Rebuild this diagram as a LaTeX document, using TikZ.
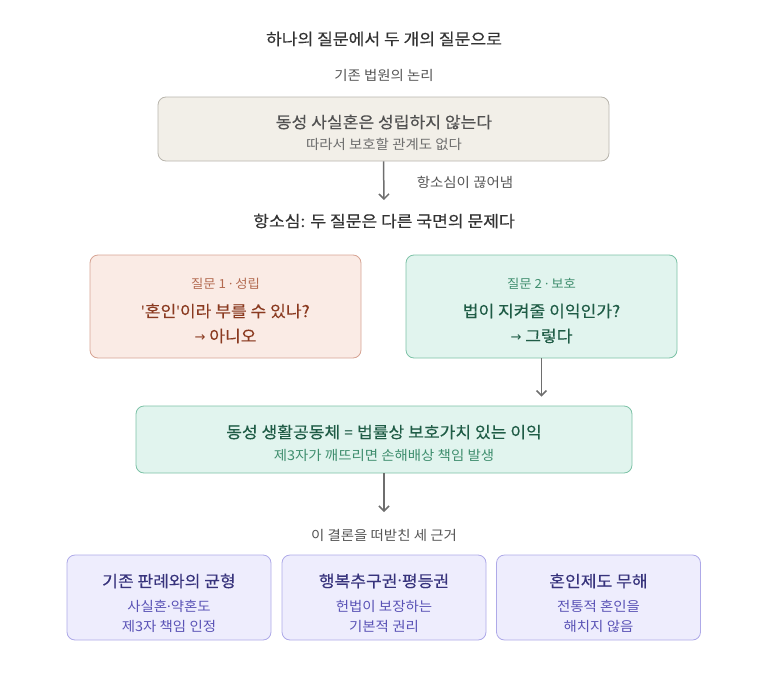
\documentclass[tikz,border=0pt]{standalone}
\usepackage{fontspec}
\setmainfont[FakeStretch=1.07]{Noto Sans CJK KR}
\newfontfamily\krmed[FakeStretch=1.07,FakeBold=0.3]{Noto Sans CJK KR}
\newfontfamily\latinfont{Noto Sans}
\newfontfamily\symfont{DejaVu Sans}
\usetikzlibrary{arrows.meta}

\definecolor{basefill}{HTML}{F2EFE8}
\definecolor{baseline}{HTML}{B9B5AD}
\definecolor{nofill}{HTML}{FAEBE5}
\definecolor{noline}{HTML}{D6A393}
\definecolor{notag}{HTML}{B36A50}
\definecolor{notext}{HTML}{8A3A20}
\definecolor{yesfill}{HTML}{E1F4EE}
\definecolor{yesline}{HTML}{7CC2A6}
\definecolor{yestag}{HTML}{3F8E6E}
\definecolor{yestext}{HTML}{1F5C46}
\definecolor{whyfill}{HTML}{EEEDFD}
\definecolor{whyline}{HTML}{AEA9E8}
\definecolor{whyhead}{HTML}{37337C}
\definecolor{whytext}{HTML}{5A53B6}
\definecolor{ink}{HTML}{333333}
\definecolor{note}{HTML}{555555}
\definecolor{way}{HTML}{6E6E6E}

\newcommand\middot{{\latinfont ·}}
\newcommand\toarrow{{\symfont\fontsize{13}{15}\selectfont →}}

\tikzset{
  box/.style={draw, rounded corners=8pt, line width=0.8pt, inner sep=0pt},
  txtbig/.style={inner sep=0pt, font=\krmed\fontsize{16}{19}\selectfont},
  txtmid/.style={inner sep=0pt, font=\fontsize{13.5}{16}\selectfont},
  txttag/.style={inner sep=0pt, font=\fontsize{12.5}{15}\selectfont},
  way/.style={draw=way, line width=1.5pt, -{Straight Barb[length=5pt,width=10pt]}}
}

\begin{document}
\begin{tikzpicture}[x=1pt,y=-1pt]
  \useasboundingbox (0,0) rectangle (768,677);
  % Boxes
  \node[box, fill=basefill, draw=baseline, minimum width=451pt, minimum height=64pt] (base) at (383.5,129) {};
  \node[box, fill=nofill, draw=noline, minimum width=271pt, minimum height=103pt] (q1) at (225.5,306.5) {};
  \node[box, fill=yesfill, draw=yesline, minimum width=271pt, minimum height=103pt] (q2) at (541.5,306.5) {};
  \node[box, fill=yesfill, draw=yesline, minimum width=496pt, minimum height=67pt] (result) at (384,439.5) {};
  \node[box, fill=whyfill, draw=whyline, minimum width=204pt, minimum height=85pt] (r1) at (169,597.5) {};
  \node[box, fill=whyfill, draw=whyline, minimum width=204pt, minimum height=85pt] (r2) at (384,597.5) {};
  \node[box, fill=whyfill, draw=whyline, minimum width=204pt, minimum height=85pt] (r3) at (598.5,597.5) {};
  % Labels
  \node[txtbig, text=ink] (title) at (384,39) {하나의 질문에서 두 개의 질문으로};
  \node[txtmid, text=note] (oldlogic) at (384,75) {기존 법원의 논리};
  \node[txtbig, text=ink!85] (basehead) at (384,122) {동성 사실혼은 성립하지 않는다};
  \node[txtmid, text=note!85] (basesub) at (384,144) {따라서 보호할 관계도 없다};
  \node[txtmid, text=note] (cut) at (465,182) {항소심이 끊어냄};
  \node[txtbig, text=ink] (appeal) at (384,221) {항소심: 두 질문은 다른 국면의 문제다};
  \node[txttag, text=notag] (q1tag) at (225.5,284) {질문 1 \middot{} 성립};
  \node[txtbig, text=notext] (q1main) at (225.5,311) {{\latinfont '}혼인{\latinfont '}이라 부를 수 있나?};
  \node[txtbig, text=notext] (q1ans) at (225.5,336) {\toarrow{} 아니오};
  \node[txttag, text=yestag] (q2tag) at (541.5,284) {질문 2 \middot{} 보호};
  \node[txtbig, text=yestext] (q2main) at (541.5,311) {법이 지켜줄 이익인가?};
  \node[txtbig, text=yestext] (q2ans) at (541.5,336) {\toarrow{} 그렇다};
  \node[txtbig, text=yestext] (resulthead) at (384,432) {동성 생활공동체 {\latinfont =} 법률상 보호가치 있는 이익};
  \node[txtmid, text=yestag] (resultsub) at (384,455) {제3자가 깨뜨리면 손해배상 책임 발생};
  \node[txtmid, text=note] (grounds) at (384,535) {이 결론을 떠받친 세 근거};
  \node[txtbig, text=whyhead] (r1head) at (169,581) {기존 판례와의 균형};
  \node[txtmid, text=whytext] (r1a) at (169,606) {사실혼\middot 약혼도};
  \node[txtmid, text=whytext] (r1b) at (169,626) {제3자 책임 인정};
  \node[txtbig, text=whyhead] (r2head) at (384,581) {행복추구권\middot 평등권};
  \node[txtmid, text=whytext] (r2a) at (384,606) {헌법이 보장하는};
  \node[txtmid, text=whytext] (r2b) at (384,626) {기본적 권리};
  \node[txtbig, text=whyhead] (r3head) at (598.5,581) {혼인제도 무해};
  \node[txtmid, text=whytext] (r3a) at (598.5,606) {전통적 혼인을};
  \node[txtmid, text=whytext] (r3b) at (598.5,626) {해치지 않음};
  % Ways
  \coordinate (cutend) at (384,200);
  \coordinate (groundsend) at (384,512);
  \draw[way] (base.south) -- (cutend);
  \draw[way, shorten >=9pt] (q2.south) -- (q2.south |- result.north);
  \draw[way] (result.south) -- (groundsend);
\end{tikzpicture}
\end{document}
